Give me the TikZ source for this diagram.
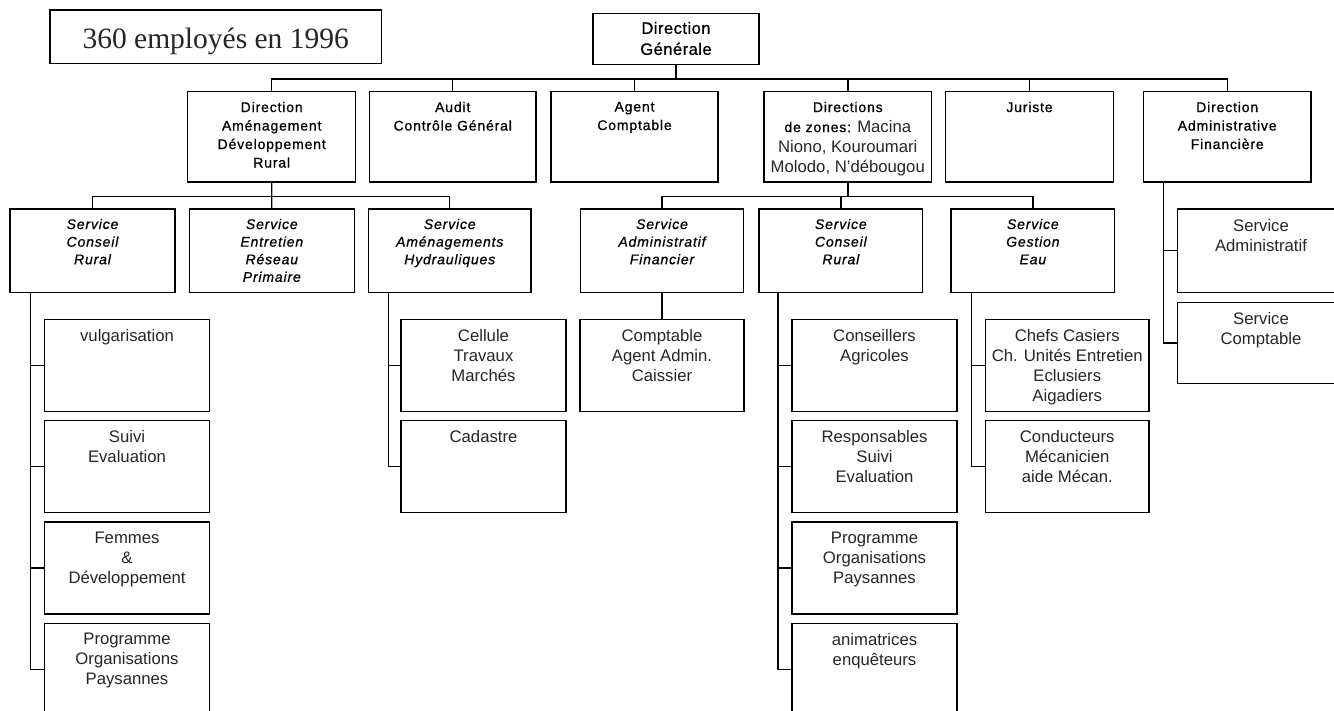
\documentclass[tikz,border=0pt]{standalone}
\usepackage{fontspec}
\setmainfont{Liberation Sans}
\newfontfamily\titlefont{Liberation Serif}
\newfontfamily\spacedsans[LetterSpace=6, FakeBold=0.8]{Liberation Sans}
\newfontfamily\dgfont[LetterSpace=3, FakeBold=0.8]{Liberation Sans}
\begin{document}
\begin{tikzpicture}[x=1pt,y=-1pt,
  box/.style={draw=black, line width=1.4pt, inner sep=0pt, outer sep=0pt},
  conn/.style={draw=black, line width=1.4pt},
  lbl/.style={anchor=north, inner sep=0pt, align=center, text=black!85},
  big/.style={lbl, font=\fontsize{16.7}{20}\selectfont},
  sm/.style={lbl, text=black, font=\spacedsans\fontsize{14}{18.5}\selectfont},
  svc/.style={lbl, text=black, font=\spacedsans\itshape\fontsize{14}{17.6}\selectfont},
  toprow/.style={box, minimum height=90.3pt},
  svcrow/.style={box, minimum height=83.3pt},
  lowbox/.style={box, minimum height=92pt, minimum width=165pt}]
\useasboundingbox (0,0) rectangle (1334,711);
\fill[white] (0,0) rectangle (1334,711);

% title
\node[box, minimum width=331.4pt, minimum height=53.3pt] (title) at (215.7,36.65) {};
\node[anchor=base, inner sep=0pt, text=black!85, font=\titlefont\fontsize{29.5}{34}\selectfont] (titlet) at (215.7,48.3) {360 employés en 1996};

% direction generale
\node[box, minimum width=166pt, minimum height=51pt] (dg) at (676,38.8) {};
\node[lbl, text=black, font=\dgfont\fontsize{16.5}{21}\selectfont] (dgt) at (676,21.7) {Direction\\Générale};

% top row
\node[toprow, minimum width=168pt] (dadr) at (271.7,136.85) {};
\node[toprow, minimum width=166.5pt] (audit) at (452.75,136.85) {};
\node[toprow, minimum width=167pt] (ac) at (634.5,136.85) {};
\node[toprow, minimum width=167.7pt] (dz) at (847.8,136.85) {};
\node[toprow, minimum width=167.6pt] (jur) at (1029.5,136.85) {};
\node[toprow, minimum width=167.7pt] (daf) at (1227.2,136.85) {};

\node[sm] (dadrt) at (271.7,101.7) {Direction\\Aménagement\\Développement\\Rural};
\node[sm] (auditt) at (452.75,101.7) {Audit\\Contrôle Général};
\node[sm] (act) at (634.5,101.7) {Agent\\Comptable};
\node[big] (dzt) at (847.8,101.7) {{\color{black}\spacedsans\fontsize{14}{20}\selectfont Directions}\\{\color{black}\spacedsans\fontsize{14}{20}\selectfont de zones:} Macina\\Niono, Kouroumari\\Molodo, N'débougou};
\node[sm] (jurt) at (1029.5,101.7) {Juriste};
\node[sm] (daft) at (1227.2,101.7) {Direction\\Administrative\\Financière};

% service row
\node[svcrow, minimum width=165pt] (scr) at (92.5,250.65) {};
\node[svcrow, minimum width=165pt] (serp) at (271.8,250.65) {};
\node[svcrow, minimum width=162.5pt] (sah) at (449.75,250.65) {};
\node[svcrow, minimum width=163pt] (saf) at (662,250.65) {};
\node[svcrow, minimum width=163.7pt] (scr2) at (840.85,250.65) {};
\node[svcrow, minimum width=163.7pt] (sge) at (1032.85,250.65) {};
\node[svcrow, minimum width=167.4pt] (sadm) at (1261,250.65) {};
\node[box, minimum width=167.4pt, minimum height=80.6pt] (scomp) at (1261,343) {};

\node[svc] (scrt) at (92.5,218.7) {Service\\Conseil\\Rural};
\node[svc] (serpt) at (271.8,218.7) {Service\\Entretien\\Réseau\\Primaire};
\node[svc] (saht) at (449.75,218.7) {Service\\Aménagements\\Hydrauliques};
\node[svc] (saft) at (662,218.7) {Service\\Administratif\\Financier};
\node[svc] (scr2t) at (840.85,218.7) {Service\\Conseil\\Rural};
\node[svc] (sget) at (1032.85,218.7) {Service\\Gestion\\Eau};
\node[big] (sadmt) at (1261,219.3) {Service\\Administratif};
\node[big] (scompt) at (1261,311.7) {Service\\Comptable};

% lower boxes
\node[lowbox] (vulg) at (127,365.3) {};
\node[lowbox] (suivi) at (127,466.7) {};
\node[lowbox] (femmes) at (127,568) {};
\node[lowbox] (lprog) at (127,669.3) {};
\node[lowbox] (cellule) at (483.5,365.3) {};
\node[lowbox] (cadastre) at (483.5,466.7) {};
\node[lowbox, minimum width=164pt] (compt) at (662,365.3) {};
\node[lowbox] (cons) at (874.5,365.3) {};
\node[lowbox] (resp) at (874.5,466.7) {};
\node[lowbox] (rprog) at (874.5,568) {};
\node[lowbox] (anim) at (874.5,669.3) {};
\node[lowbox, minimum width=163.5pt] (chefs) at (1067.25,365.3) {};
\node[lowbox, minimum width=163.5pt] (cond) at (1067.25,466.7) {};

\node[big] (vulgt) at (127,329) {vulgarisation};
\node[big] (suivit) at (127,430.4) {Suivi\\Evaluation};
\node[big] (femmest) at (127,531.7) {Femmes\\\&\\Développement};
\node[big] (lprogt) at (127,633) {Programme\\Organisations\\Paysannes};
\node[big] (cellulet) at (483.5,329) {Cellule\\Travaux\\Marchés};
\node[big] (cadastret) at (483.5,430.4) {Cadastre};
\node[big] (comptt) at (662,329) {Comptable\\Agent Admin.\\Caissier};
\node[big] (const) at (874.5,329) {Conseillers\\Agricoles};
\node[big] (respt) at (874.5,430.4) {Responsables\\Suivi\\Evaluation};
\node[big] (rprogt) at (874.5,531.7) {Programme\\Organisations\\Paysannes};
\node[big] (animt) at (874.5,633) {animatrices\\enquêteurs};
\node[big] (chefst) at (1067.25,329) {Chefs Casiers\\Ch. Unités Entretien\\Eclusiers\\Aigadiers};
\node[big] (condt) at (1067.25,430.4) {Conducteurs\\Mécanicien\\aide Mécan.};

% connectors: top level
\draw[conn] (dg.south) -- ++(0,14.7);
\draw[conn] (dadr.north) -- ++(0,-12.7) -| (daf.north);
\draw[conn] (audit.north) -- ++(0,-12.7);
\draw[conn] (ac.north) -- ++(0,-12.7);
\draw[conn] (dz.north) -- ++(0,-12.7);
\draw[conn] (jur.north) -- ++(0,-12.7);

% DADR services
\draw[conn] (dadr.south) -- (serp.north);
\draw[conn] (scr.north) -- ++(0,-12.7) -| (sah.north);

% zones services
\draw[conn] (dz.south) -- ++(0,14.5);
\draw[conn] (saf.north) -- ++(0,-12.5) -| (sge.north);
\draw[conn] (scr2.north) -- ++(0,-12.5);

% sub-lists
\draw[conn] ([xshift=20.7pt]scr.south west) |- (lprog.west);
\draw[conn] (vulg.west) -- ++(-13.8,0);
\draw[conn] (suivi.west) -- ++(-13.8,0);
\draw[conn] (femmes.west) -- ++(-13.8,0);

\draw[conn] ([xshift=19.9pt]sah.south west) |- (cadastre.west);
\draw[conn] (cellule.west) -- ++(-12.6,0);

\draw[conn] (saf.south) -- (compt.north);

\draw[conn] ([xshift=19pt]scr2.south west) |- (anim.west);
\draw[conn] (cons.west) -- ++(-14,0);
\draw[conn] (resp.west) -- ++(-14,0);
\draw[conn] (rprog.west) -- ++(-14,0);

\draw[conn] ([xshift=20.3pt]sge.south west) |- (cond.west);
\draw[conn] (chefs.west) -- ++(-14.2,0);

\draw[conn] ([xshift=20pt]daf.south west) |- (scomp.west);
\draw[conn] (sadm.west) -- ++(-14,0);
\end{tikzpicture}
\end{document}
